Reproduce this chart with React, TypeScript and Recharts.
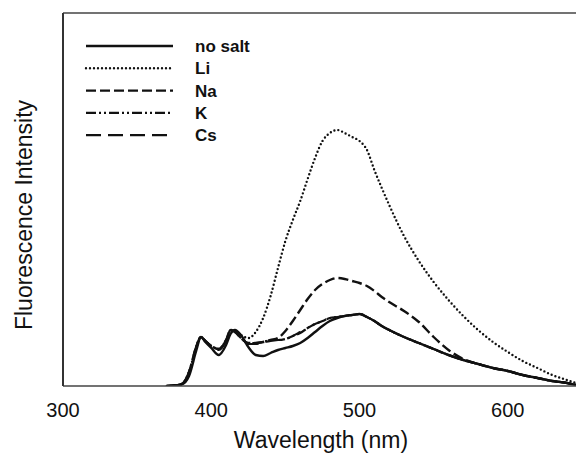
import { LineChart, Line, XAxis, YAxis, ReferenceLine, Legend } from "recharts";

// wavelength grid (nm) shared by all spectra
const wavelength = [
  370, 375, 380, 385, 390, 393, 396, 400, 405, 410, 413, 416, 420, 425, 430, 435, 440, 445, 450, 455,
  460, 465, 470, 475, 480, 485, 490, 495, 500, 505, 510, 515, 520, 530, 540, 550, 560, 570, 580, 590,
  600, 610, 620, 630, 640, 646,
];

const noSalt = [
  0, 0.5, 1.5, 10, 36, 49, 44, 38, 31, 41, 52, 56, 51, 39, 31, 30, 33, 36, 38, 40,
  43, 48, 54, 60, 65, 68, 70, 71, 72, 69, 65, 60, 56, 49, 43, 37, 31, 26, 22, 18,
  15, 11, 8, 5, 3, 1,
];

const li = [
  0, 0.5, 2, 14, 40, 49, 45, 40, 37, 46, 56, 55, 51, 48, 54, 68, 90, 118, 145, 166,
  185, 207, 228, 245, 253, 256, 253, 249, 245, 236, 216, 198, 181, 150, 125, 104, 86, 70, 56, 44,
  34, 25, 18, 11, 6, 3,
];

const na = [
  0, 0.5, 2, 14, 40, 49, 45, 40, 37, 46, 56, 54, 48, 43, 43, 44, 46, 48, 55, 65,
  76, 87, 96, 102, 106, 108, 107, 105, 103, 100, 95, 89, 84, 75, 64, 49, 36, 27, 22, 18,
  15, 11, 8, 5, 3, 1,
];

const k = [
  0, 0.5, 2, 14, 40, 49, 45, 40, 37, 46, 56, 54, 48, 43, 43, 44, 46, 46, 47, 50,
  53, 58, 62, 65, 68, 69, 70, 71, 72, 69, 65, 60, 56, 49, 43, 37, 31, 26, 22, 18,
  15, 11, 8, 5, 3, 1,
];

const cs = [
  0, 0.5, 2, 13, 39, 49, 45, 39, 36, 45, 56, 55, 49, 42, 42, 44, 45, 46, 47, 50,
  54, 58, 62, 65, 68, 69, 70, 71, 72, 69, 65, 60, 56, 49, 43, 37, 31, 26, 22, 18,
  15, 11, 8, 5, 3, 1,
];

const xTicks = [300, 400, 500, 600];

const data = wavelength.map((wl, i) => ({
  wl,
  noSalt: noSalt[i],
  li: li[i],
  na: na[i],
  k: k[i],
  cs: cs[i],
}));

const series = [
  { key: "noSalt", name: "no salt", dash: undefined, width: 2.4, cap: "butt" },
  { key: "li", name: "Li", dash: "0 4", width: 2.4, cap: "round" },
  { key: "na", name: "Na", dash: "10 4", width: 2.4, cap: "butt" },
  { key: "k", name: "K", dash: "10 3 2 3 2 3", width: 2.2, cap: "butt" },
  { key: "cs", name: "Cs", dash: "15 7", width: 2.2, cap: "butt" },
];

const FONT = "'Liberation Sans', Arial, sans-serif";

const LegendBox = () => (
  <svg width={200} height={120} style={{ fontFamily: FONT }}>
    {series.map((s, i) => {
      const y = 16 + i * 22.3;
      return (
        <g key={s.key}>
          <line
            x1={6}
            x2={93}
            y1={y}
            y2={y}
            stroke="#111"
            strokeWidth={s.width}
            strokeDasharray={s.dash}
            strokeLinecap={s.cap as "butt" | "round"}
          />
          <text x={115} y={y} dy="0.35em" fontSize={17} fontWeight="bold" fill="#111">
            {s.name}
          </text>
        </g>
      );
    })}
  </svg>
);

export default function App() {
  return (
    <div style={{ position: "absolute", left: 0, top: 0, background: "#fff", fontFamily: FONT }}>
      <LineChart width={576} height={454} data={data} margin={{ top: 13, right: 0, left: 0, bottom: 0 }}>
        <XAxis
          dataKey="wl"
          type="number"
          domain={[300, 646]}
          allowDataOverflow
          ticks={xTicks}
          tickLine={false}
          axisLine={{ stroke: "#444", strokeWidth: 1.5 }}
          tick={{ fill: "#111", fontSize: 20, fontFamily: FONT }}
          tickMargin={11}
          height={68}
          label={{
            content: () => (
              <text x={321} y={448} textAnchor="middle" fontSize={23} fill="#111" fontFamily={FONT}>
                Wavelength (nm)
              </text>
            ),
          }}
        />
        <YAxis
          type="number"
          domain={[0, 373]}
          allowDataOverflow
          width={63}
          tick={false}
          tickLine={false}
          axisLine={{ stroke: "#333", strokeWidth: 2 }}
          label={{
            content: () => (
              <text
                x={32}
                y={215}
                transform="rotate(-90 32 215)"
                textAnchor="middle"
                fontSize={23}
                fill="#111"
                fontFamily={FONT}
              >
                Fluorescence Intensity
              </text>
            ),
          }}
        />
        <ReferenceLine y={373} stroke="#444" strokeWidth={1.5} />
        <Legend
          layout="vertical"
          verticalAlign="middle"
          align="center"
          content={<LegendBox />}
          wrapperStyle={{ left: 80, top: 30, width: 200, height: 120 }}
        />
        {series.map((s) => (
          <Line
            key={s.key}
            type="monotone"
            dataKey={s.key}
            name={s.name}
            stroke="#111"
            strokeWidth={s.width}
            strokeDasharray={s.dash}
            strokeLinecap={s.cap as "butt" | "round"}
            dot={false}
            activeDot={false}
            isAnimationActive={false}
          />
        ))}
      </LineChart>
    </div>
  );
}
